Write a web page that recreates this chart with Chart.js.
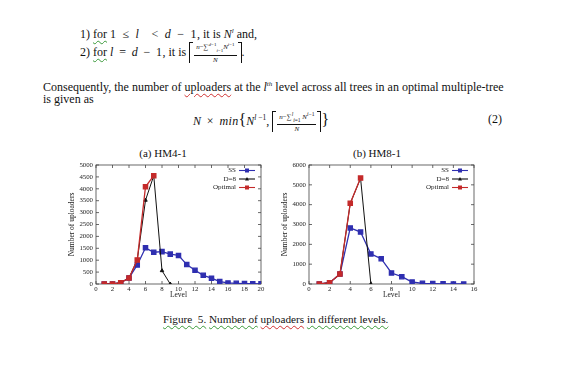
<!DOCTYPE html>
<html>
<head>
<meta charset="utf-8">
<script src="https://cdn.jsdelivr.net/npm/chart.js@4/dist/chart.umd.min.js"></script>
<style>
  html, body { margin:0; padding:0; background:#fff; }
  body { width:567px; height:369px; position:relative; overflow:hidden; font-family:"Liberation Serif","Times New Roman",serif; color:#111; }
  .t { position:absolute; white-space:nowrap; font-size:12px; line-height:13px; }
  .m { word-spacing:2px; letter-spacing:0.4px; }
  .m1 { word-spacing:2.5px; letter-spacing:0.5px; }
  .g { text-decoration: underline wavy #3a9a3a; text-decoration-thickness:1px; text-underline-offset:2px; }
  .r { text-decoration: underline wavy #d03030; text-decoration-thickness:1px; text-underline-offset:2px; }
  .frac { display:inline-block; vertical-align:middle; text-align:center; font-size:7px; line-height:8.5px; margin:0 1px; }
  .frac .num { display:block; border-bottom:1px solid #111; padding:0 2px; }
  .frac .den { display:block; }
  .cl { display:inline-block; vertical-align:middle; width:3px; height:20px; border-left:1px solid #111; border-top:1px solid #111; }
  .cr { display:inline-block; vertical-align:middle; width:3px; height:20px; border-right:1px solid #111; border-top:1px solid #111; }
  .cap { position:absolute; white-space:nowrap; font-size:11.2px; }
  canvas { position:absolute; }
  .ct { position:absolute; font-size:11px; white-space:nowrap; transform:translate(-50%,-50%); }
</style>
</head>
<body>
<div class="t" style="left:80px; top:25px;">1) <span class="g">for</span> <span class="m1">1 ≤ <i>l</i> &nbsp;&lt; <i>d</i> − 1</span>, it is <i>N<sup style="font-size:7px">l</sup></i> and,</div>
<div class="t" style="left:80px; top:41px;">2) <span class="g">for</span> <span class="m"><i>l</i> = <i>d</i> − 1</span>, it is <span class="cl"></span><span class="frac"><span class="num"><i>n</i>−∑<sup style="font-size:5px"><i>d</i>−1</sup><sub style="font-size:5px"><i>i</i>=1</sub><i>N</i><sup style="font-size:5px"><i>i</i>−1</sup></span><span class="den"><i>N</i></span></span><span class="cr"></span>.</div>
<div class="t" style="left:43px; top:78px;">Consequently, the number of <span class="r">uploaders</span> at the <i>l</i><sup style="font-size:7px"><i>th</i></sup> level across all trees in an optimal multiple-tree</div>
<div class="t" style="left:43px; top:93px;">is given as</div>
<div class="t" style="left:193px; top:110px;"><span class="m"><i>N</i> × <i>min</i></span><span style="font-size:16px">{</span><i>N</i><sup style="font-size:7.5px"><i>l</i> −1</sup>, <span class="cl"></span><span class="frac"><span class="num"><i>n</i>−∑<sup style="font-size:5.5px"><i>l</i></sup><sub style="font-size:5.5px"><i>i</i>=1</sub> <i>N</i><sup style="font-size:5.5px"><i>i</i>−1</sup></span><span class="den"><i>N</i></span></span><span class="cr"></span><span style="font-size:16px">}</span></div>
<div class="t" style="left:488px; top:113px;">(2)</div>

<div class="ct" style="left:163px; top:153px;">(a) HM4-1</div>
<div class="ct" style="left:377px; top:153px;">(b) HM8-1</div>

<canvas id="ca" width="215" height="165" style="left:56px; top:140px; width:215px; height:165px;"></canvas>
<canvas id="cb" width="215" height="165" style="left:269px; top:140px; width:215px; height:165px;"></canvas>

<div class="cap" style="left:163px; top:313px;"><span class="g">Figure&nbsp; 5.</span> <span class="g">Number of</span> <span class="r">uploaders</span> <span class="g">in different levels.</span></div>

<script>
// ---- Data: (a) HM4-1 ----
const levelsA     = [1,2,3,4,5,6,7,8,9,10,11,12,13,14,15,16,17,18,19,20];
const ssA         = [0,0,55,255,800,1520,1335,1360,1255,1200,815,575,365,245,100,45,28,18,10,5];
const levelsD8A   = [1,2,3,4,5,6,7,8,9];
const d8A         = [0,0,55,255,1010,3520,4550,560,0];
const levelsOptA  = [1,2,3,4,5,6,7];
const optA        = [0,0,55,255,1010,4085,4550];
const xTicksA     = [0,2,4,6,8,10,12,14,16,18,20];
const yTicksA     = [0,500,1000,1500,2000,2500,3000,3500,4000,4500,5000];

// ---- Data: (b) HM8-1 ----
const levelsB     = [1,2,3,4,5,6,7,8,9,10,11,12,13,14,15];
const ssB         = [0,65,500,2825,2620,1515,1275,555,370,100,35,20,8,4,0];
const levelsD8B   = [1,2,3,4,5,6];
const d8B         = [0,65,500,4060,5330,0];
const levelsOptB  = [1,2,3,4,5];
const optB        = [0,65,500,4070,5340];
const xTicksB     = [0,2,4,6,8,10,12,14,16];
const yTicksB     = [0,1000,2000,3000,4000,5000,6000];

const seriesNames = ['SS','D=8','Optimal'];
const COL = { ss:'#2f2fb0', d8:'#111111', opt:'#c42a2a' };
const FONT = '"Liberation Serif","Times New Roman",serif';

const pts = (xs, ys) => xs.map((x,i)=>({x:x, y:ys[i]}));

const framePlugin = {
  id:'frame',
  beforeDatasetsDraw(chart) {
    const {ctx, chartArea:a, scales} = chart;
    ctx.save();
    ctx.strokeStyle = '#444';
    ctx.lineWidth = 0.8;
    ctx.strokeRect(a.left, a.top, a.right-a.left, a.bottom-a.top);
    const tl = 3;
    ctx.beginPath();
    scales.x.ticks.forEach(t => {
      const p = scales.x.getPixelForValue(t.value);
      ctx.moveTo(p, a.bottom); ctx.lineTo(p, a.bottom - tl);
      ctx.moveTo(p, a.top); ctx.lineTo(p, a.top + tl);
    });
    scales.y.ticks.forEach(t => {
      const p = scales.y.getPixelForValue(t.value);
      ctx.moveTo(a.left, p); ctx.lineTo(a.left + tl, p);
      ctx.moveTo(a.right, p); ctx.lineTo(a.right - tl, p);
    });
    ctx.stroke();
    ctx.restore();
  },
  afterDatasetsDraw(chart) {
    const {ctx, chartArea:a} = chart;
    const ds = chart.data.datasets;
    ctx.save();
    ctx.font = '7px ' + FONT;
    ctx.textAlign = 'right';
    ctx.textBaseline = 'middle';
    const ys = [5.5, 14, 22.5];
    ds.forEach((d, i) => {
      const y = a.top + ys[i];
      ctx.fillStyle = '#222';
      ctx.fillText(d.label, a.right - 25, y);
      ctx.strokeStyle = d.borderColor;
      ctx.lineWidth = 1.1;
      ctx.beginPath(); ctx.moveTo(a.right - 22, y); ctx.lineTo(a.right - 6, y); ctx.stroke();
      const cx = a.right - 14;
      ctx.fillStyle = d.borderColor;
      if (d.pointStyle === 'triangle') {
        ctx.beginPath(); ctx.moveTo(cx, y-2); ctx.lineTo(cx+2, y+1.5); ctx.lineTo(cx-2, y+1.5); ctx.closePath(); ctx.fill();
      } else {
        ctx.fillRect(cx-2, y-2, 4, 4);
      }
    });
    ctx.restore();
  }
};

function makeChart(id, lv, ss, lvd, d8, lvo, opt, xTicks, yTicks) {
  const xmax = xTicks[xTicks.length-1], ymax = yTicks[yTicks.length-1];
  const ystep = yTicks[1]-yTicks[0], xstep = xTicks[1]-xTicks[0];
  return new Chart(document.getElementById(id), {
    type:'line',
    data:{ datasets:[
      { label:seriesNames[0], data:pts(lv, ss), borderColor:COL.ss, backgroundColor:COL.ss, borderWidth:1.3, pointStyle:'rect', pointRadius:3, order:2 },
      { label:seriesNames[1], data:pts(lvd, d8), borderColor:COL.d8, backgroundColor:COL.d8, borderWidth:1, pointStyle:'triangle', pointRadius:2, order:1 },
      { label:seriesNames[2], data:pts(lvo, opt), borderColor:COL.opt, backgroundColor:COL.opt, borderWidth:1.3, pointStyle:'rect', pointRadius:3, order:0 }
    ]},
    options:{
      responsive:false, animation:false, devicePixelRatio:1,
      layout:{ padding:{ top:25, right:10, left:0, bottom:0 } },
      plugins:{ legend:{display:false}, tooltip:{enabled:false} },
      elements:{ line:{ tension:0 } },
      scales:{
        x:{ type:'linear', min:0, max:xmax,
            ticks:{ stepSize:xstep, autoSkip:false, maxRotation:0, padding:1, color:'#222', font:{family:FONT, size:6.8}, callback:v=>String(v) },
            grid:{ display:false, drawTicks:false }, border:{display:false},
            title:{ display:true, text:'Level', color:'#222', font:{family:FONT, size:7.5}, padding:{top:0, bottom:5} },
            afterFit(s){ s.height = 21; } },
        y:{ type:'linear', min:0, max:ymax,
            ticks:{ stepSize:ystep, autoSkip:false, padding:3, color:'#222', font:{family:FONT, size:6.8}, callback:v=>String(v) },
            grid:{ display:false, drawTicks:false }, border:{display:false},
            title:{ display:true, text:'Number of uploaders', color:'#222', font:{family:FONT, size:7.5}, padding:{top:11.5, bottom:0} },
            afterFit(s){ s.width = 40; } }
      }
    },
    plugins:[framePlugin]
  });
}

makeChart('ca', levelsA, ssA, levelsD8A, d8A, levelsOptA, optA, xTicksA, yTicksA);
makeChart('cb', levelsB, ssB, levelsD8B, d8B, levelsOptB, optB, xTicksB, yTicksB);
</script>
</body>
</html>
